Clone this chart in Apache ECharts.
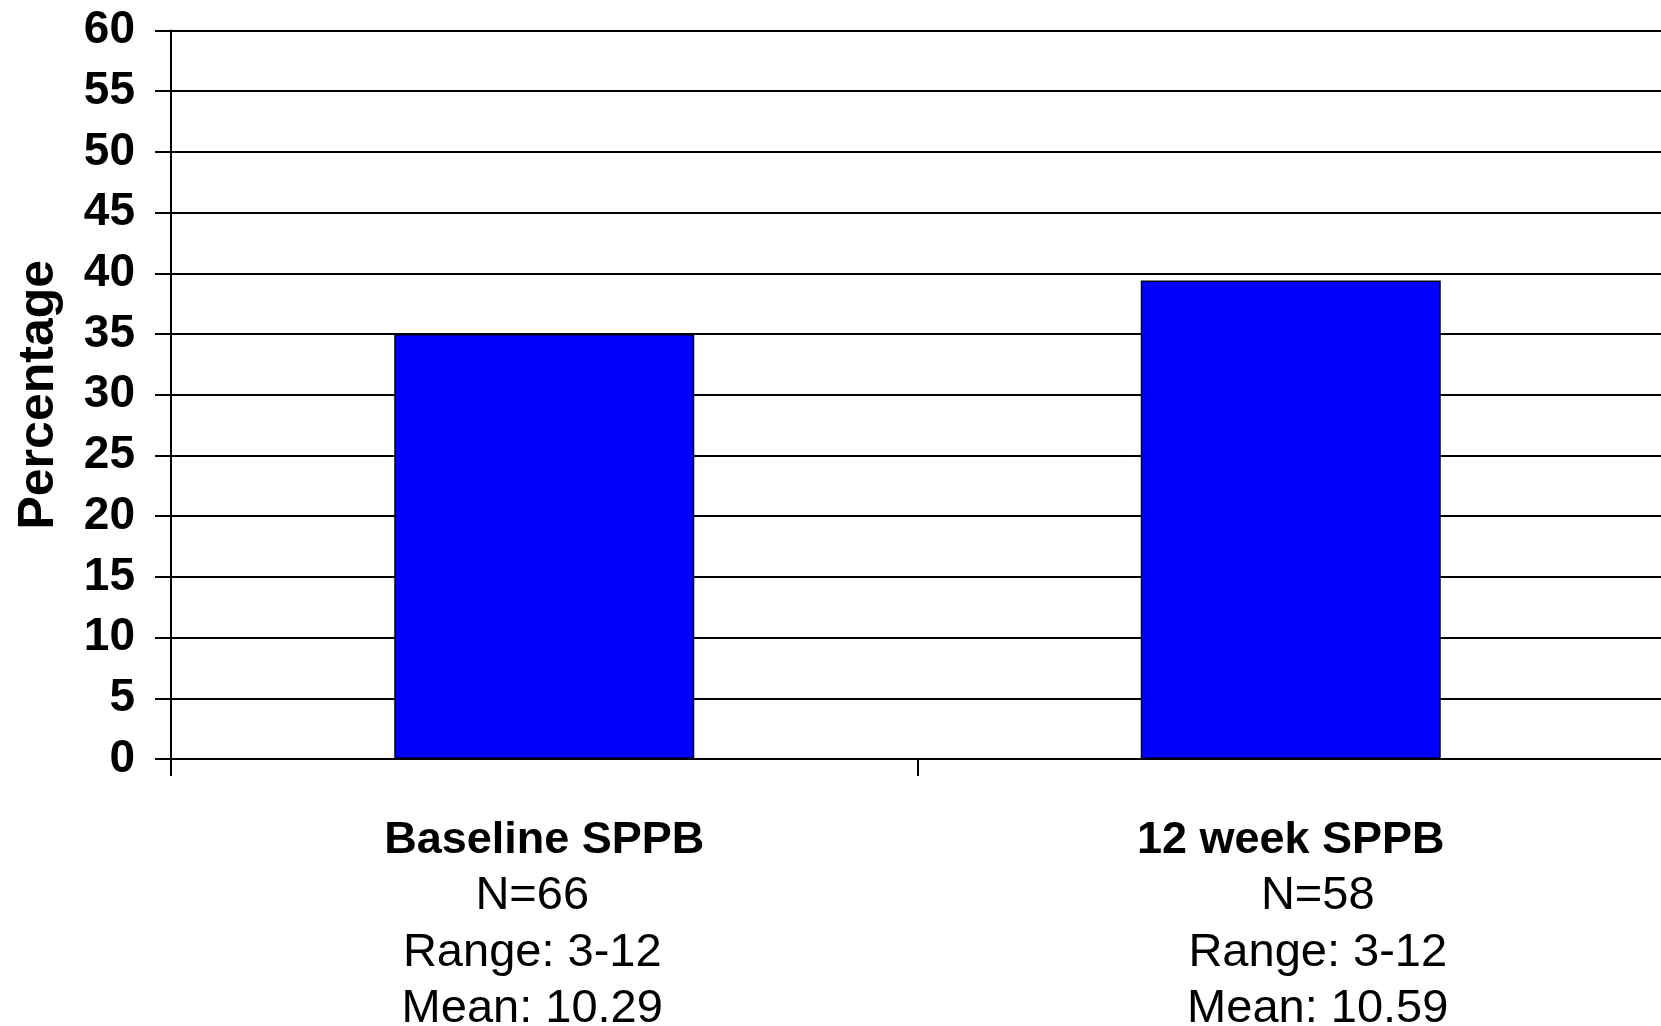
<!DOCTYPE html>
<html>
<head>
<meta charset="utf-8">
<script src="https://cdn.jsdelivr.net/npm/echarts@6/dist/echarts.min.js"></script>
<style>
  html, body { margin: 0; padding: 0; background: #fff; }
  #chart { width: 1661px; height: 1026px; }
</style>
</head>
<body>
<div id="chart"></div>
<script>
// SPPB score distribution: share of participants, baseline vs 12 weeks
const categories = ['Baseline SPPB', '12 week SPPB'];
const percentages = [35, 39.4];
const sampleSizes = [66, 58];
const scoreRanges = ['3-12', '3-12'];
const meanScores = ['10.29', '10.59'];
const yTicks = { min: 0, max: 60, interval: 5 };

const FONT = '"Liberation Sans", Arial, sans-serif';

const chart = echarts.init(document.getElementById('chart'), null, { renderer: 'canvas' });

chart.setOption({
  animation: false,
  backgroundColor: '#ffffff',
  grid: {
    left: 171, right: -3, top: 30.5, bottom: 267,
    containLabel: false,
    outerBoundsMode: 'none'
  },
  xAxis: {
    type: 'category',
    data: categories,
    boundaryGap: true,
    axisLine: { show: true, lineStyle: { color: '#000', width: 2 } },
    axisTick: { show: true, length: 17, inside: false, lineStyle: { color: '#000', width: 2 } },
    axisLabel: {
      margin: 55,
      interval: 0,
      fontFamily: FONT,
      formatter: function (value, idx) {
        const s = 's' + idx;
        return '{t|' + value + '}\n' +
          '{' + s + '|N=' + sampleSizes[idx] + '}\n' +
          '{' + s + '|Range: ' + scoreRanges[idx] + '}\n' +
          '{' + s + '|Mean: ' + meanScores[idx] + '}';
      },
      rich: {
        t: { fontFamily: FONT, fontSize: 45, fontWeight: 'bold', color: '#000', lineHeight: 54 },
        s0: { fontFamily: FONT, fontSize: 47, color: '#000', lineHeight: 56.5, padding: [0, 24, 0, 0] },
        s1: { fontFamily: FONT, fontSize: 47, color: '#000', lineHeight: 56.5, padding: [0, 0, 0, 54] }
      }
    },
    splitLine: { show: false }
  },
  yAxis: {
    type: 'value',
    min: yTicks.min,
    max: yTicks.max,
    interval: yTicks.interval,
    name: 'Percentage',
    nameLocation: 'middle',
    nameRotate: 90,
    nameGap: 107,
    nameTextStyle: { fontFamily: FONT, fontSize: 50, fontWeight: 'bold', color: '#000' },
    axisLine: { show: true, lineStyle: { color: '#000', width: 2 } },
    axisTick: { show: true, length: 16, inside: false, lineStyle: { color: '#000', width: 2 } },
    axisLabel: { margin: 36, fontFamily: FONT, fontSize: 46, fontWeight: 'bold', color: '#000' },
    splitLine: { show: true, lineStyle: { color: '#000', width: 2 } }
  },
  series: [{
    type: 'bar',
    data: percentages,
    barWidth: 300,
    itemStyle: { color: '#0000ff', borderColor: '#000', borderWidth: 1.5 },
    z: 3
  }]
});
</script>
</body>
</html>
